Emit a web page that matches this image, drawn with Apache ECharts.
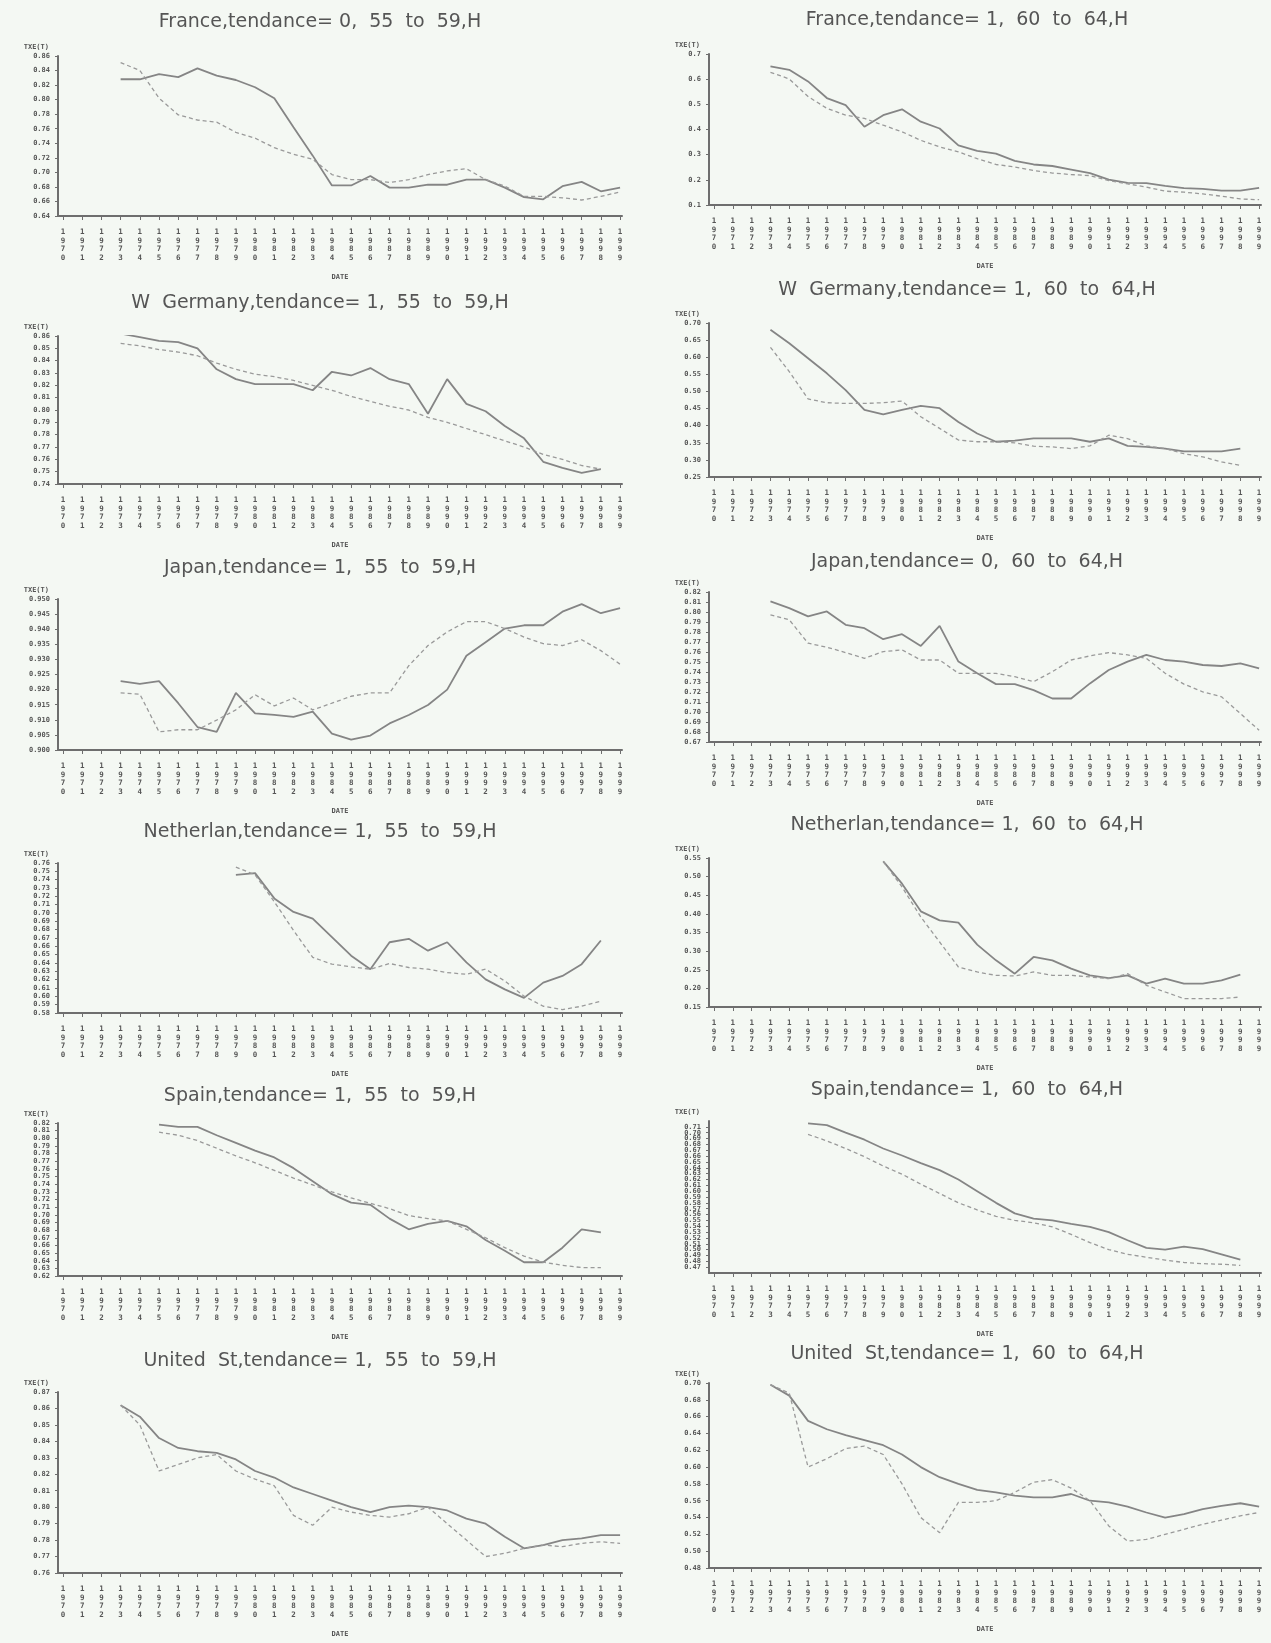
<!DOCTYPE html>
<html>
<head>
<meta charset="utf-8">
<script src="https://cdn.jsdelivr.net/npm/echarts@6/dist/echarts.min.js"></script>
<style>
html, body { margin: 0; padding: 0; background: #f4f8f3; }
#main { width: 1271px; height: 1643px; }
</style>
</head>
<body>
<div id="main"></div>
<script>
var years = [1970, 1971, 1972, 1973, 1974, 1975, 1976, 1977, 1978, 1979,
             1980, 1981, 1982, 1983, 1984, 1985, 1986, 1987, 1988, 1989,
             1990, 1991, 1992, 1993, 1994, 1995, 1996, 1997, 1998, 1999];

// France 55-59
var fr5559Obs = [null, null, null, 0.828, 0.828, 0.835, 0.831, 0.843, 0.833, 0.827,
                 0.817, 0.802, 0.762, 0.723, 0.682, 0.682, 0.695, 0.679, 0.679, 0.683,
                 0.683, 0.690, 0.690, 0.679, 0.666, 0.663, 0.681, 0.687, 0.674, 0.679];
var fr5559Trend = [null, null, null, 0.851, 0.840, 0.802, 0.779, 0.772, 0.769, 0.755,
                   0.747, 0.734, 0.725, 0.718, 0.697, 0.690, 0.690, 0.686, 0.690, 0.697,
                   0.702, 0.705, 0.690, 0.681, 0.667, 0.667, 0.665, 0.662, 0.667, 0.673];
var fr5559Ticks = [0.64, 0.66, 0.68, 0.70, 0.72, 0.74, 0.76, 0.78, 0.80, 0.82, 0.84, 0.86];

// France 60-64
var fr6064Obs = [null, null, null, 0.651, 0.637, 0.591, 0.525, 0.497, 0.411, 0.457,
                 0.480, 0.431, 0.404, 0.337, 0.315, 0.304, 0.275, 0.261, 0.255, 0.241,
                 0.227, 0.201, 0.188, 0.187, 0.176, 0.167, 0.164, 0.157, 0.157, 0.168];
var fr6064Trend = [null, null, null, 0.627, 0.601, 0.531, 0.484, 0.457, 0.444, 0.417,
                   0.391, 0.357, 0.331, 0.311, 0.284, 0.261, 0.251, 0.237, 0.227, 0.221,
                   0.217, 0.197, 0.184, 0.171, 0.155, 0.151, 0.144, 0.135, 0.124, 0.121];
var fr6064Ticks = [0.1, 0.2, 0.3, 0.4, 0.5, 0.6, 0.7];

// W Germany 55-59
var de5559Obs = [null, null, null, 0.862, 0.859, 0.856, 0.855, 0.850, 0.833, 0.825,
                 0.821, 0.821, 0.821, 0.816, 0.831, 0.828, 0.834, 0.825, 0.821, 0.797,
                 0.825, 0.805, 0.799, 0.787, 0.777, 0.758, 0.753, 0.749, 0.752, null];
var de5559Trend = [null, null, null, 0.854, 0.852, 0.849, 0.847, 0.844, 0.838, 0.833,
                   0.829, 0.827, 0.824, 0.820, 0.816, 0.811, 0.807, 0.803, 0.800, 0.794,
                   0.790, 0.785, 0.780, 0.775, 0.770, 0.764, 0.760, 0.755, 0.752, null];
var de5559Ticks = [0.74, 0.75, 0.76, 0.77, 0.78, 0.79, 0.80, 0.81, 0.82, 0.83, 0.84, 0.85, 0.86];

// W Germany 60-64
var de6064Obs = [null, null, null, 0.680, 0.641, 0.597, 0.553, 0.504, 0.446, 0.433,
                 0.446, 0.458, 0.451, 0.411, 0.377, 0.353, 0.356, 0.363, 0.363, 0.363,
                 0.353, 0.363, 0.341, 0.338, 0.333, 0.325, 0.325, 0.325, 0.333, null];
var de6064Trend = [null, null, null, 0.629, 0.558, 0.478, 0.467, 0.465, 0.465, 0.467,
                   0.472, 0.426, 0.392, 0.358, 0.353, 0.353, 0.350, 0.340, 0.338, 0.333,
                   0.341, 0.372, 0.362, 0.341, 0.333, 0.318, 0.309, 0.294, 0.284, null];
var de6064Ticks = [0.25, 0.30, 0.35, 0.40, 0.45, 0.50, 0.55, 0.60, 0.65, 0.70];

// Japan 55-59
var jp5559Obs = [null, null, null, 0.9228, 0.9219, 0.9228, 0.9155, 0.9076, 0.9060, 0.9189,
                 0.9121, 0.9116, 0.9110, 0.9127, 0.9054, 0.9034, 0.9048, 0.9088, 0.9116, 0.9149,
                 0.9200, 0.9312, 0.9357, 0.9402, 0.9413, 0.9413, 0.9458, 0.9483, 0.9453, 0.9470];
var jp5559Trend = [null, null, null, 0.9189, 0.9185, 0.9060, 0.9067, 0.9067, 0.9099, 0.9133,
                   0.9183, 0.9146, 0.9172, 0.9133, 0.9155, 0.9178, 0.9189, 0.9189, 0.9279, 0.9346,
                   0.9391, 0.9425, 0.9425, 0.9402, 0.9374, 0.9352, 0.9346, 0.9365, 0.9329, 0.9284];
var jp5559Ticks = [0.900, 0.905, 0.910, 0.915, 0.920, 0.925, 0.930, 0.935, 0.940, 0.945, 0.950];

// Japan 60-64
var jp6064Obs = [null, null, null, 0.8106, 0.8039, 0.7956, 0.8006, 0.7872, 0.7838, 0.7728,
                 0.7778, 0.7661, 0.7862, 0.7504, 0.7387, 0.7279, 0.7279, 0.7219, 0.7135, 0.7135,
                 0.7286, 0.7420, 0.7504, 0.7571, 0.7520, 0.7504, 0.7470, 0.7460, 0.7487, 0.7437];
var jp6064Trend = [null, null, null, 0.7972, 0.7922, 0.7688, 0.7648, 0.7594, 0.7537, 0.7604,
                   0.7621, 0.7520, 0.7520, 0.7387, 0.7387, 0.7387, 0.7353, 0.7303, 0.7403, 0.7520,
                   0.7561, 0.7594, 0.7571, 0.7537, 0.7387, 0.7279, 0.7202, 0.7152, 0.6985, 0.6817];
var jp6064Ticks = [0.67, 0.68, 0.69, 0.70, 0.71, 0.72, 0.73, 0.74, 0.75, 0.76, 0.77, 0.78, 0.79, 0.80, 0.81, 0.82];

// Netherlands 55-59
var nl5559Obs = [null, null, null, null, null, null, null, null, null, 0.7458,
                 0.7479, 0.7175, 0.7013, 0.6933, 0.6710, 0.6488, 0.6326, 0.6649, 0.6690, 0.6548,
                 0.6649, 0.6407, 0.6204, 0.6083, 0.5982, 0.6164, 0.6245, 0.6386, 0.6670, null];
var nl5559Trend = [null, null, null, null, null, null, null, null, null, 0.7551,
                   0.7458, 0.7135, 0.6791, 0.6467, 0.6386, 0.6354, 0.6326, 0.6394, 0.6346, 0.6326,
                   0.6285, 0.6265, 0.6326, 0.6184, 0.6002, 0.5881, 0.5840, 0.5881, 0.5941, null];
var nl5559Ticks = [0.58, 0.59, 0.60, 0.61, 0.62, 0.63, 0.64, 0.65, 0.66, 0.67,
                   0.68, 0.69, 0.70, 0.71, 0.72, 0.73, 0.74, 0.75, 0.76];

// Netherlands 60-64
var nl6064Obs = [null, null, null, null, null, null, null, null, null, 0.5411,
                 0.4811, 0.4068, 0.3827, 0.3764, 0.3174, 0.2753, 0.2395, 0.2843, 0.2753, 0.2529,
                 0.2350, 0.2278, 0.2350, 0.2127, 0.2261, 0.2127, 0.2127, 0.2216, 0.2368, null];
var nl6064Trend = [null, null, null, null, null, null, null, null, null, 0.5411,
                   0.4722, 0.3916, 0.3245, 0.2574, 0.2440, 0.2350, 0.2332, 0.2440, 0.2350, 0.2350,
                   0.2306, 0.2261, 0.2395, 0.2082, 0.1903, 0.1725, 0.1725, 0.1725, 0.1769, null];
var nl6064Ticks = [0.15, 0.20, 0.25, 0.30, 0.35, 0.40, 0.45, 0.50, 0.55];

// Spain 55-59
var es5559Obs = [null, null, null, null, null, 0.818, 0.815, 0.815, 0.804, 0.794,
                 0.784, 0.775, 0.761, 0.744, 0.727, 0.716, 0.713, 0.695, 0.681, 0.688,
                 0.692, 0.685, 0.667, 0.653, 0.638, 0.638, 0.657, 0.681, 0.677, null];
var es5559Trend = [null, null, null, null, null, 0.808, 0.804, 0.797, 0.787, 0.777,
                   0.768, 0.758, 0.748, 0.739, 0.730, 0.722, 0.715, 0.708, 0.699, 0.695,
                   0.692, 0.681, 0.670, 0.657, 0.646, 0.638, 0.634, 0.631, 0.631, null];
var es5559Ticks = [0.62, 0.63, 0.64, 0.65, 0.66, 0.67, 0.68, 0.69, 0.70, 0.71, 0.72,
                   0.73, 0.74, 0.75, 0.76, 0.77, 0.78, 0.79, 0.80, 0.81, 0.82];

// Spain 60-64
var es6064Obs = [null, null, null, null, null, 0.716, 0.713, 0.700, 0.688, 0.673,
                 0.661, 0.648, 0.636, 0.620, 0.600, 0.580, 0.562, 0.553, 0.550, 0.544,
                 0.539, 0.530, 0.516, 0.503, 0.500, 0.505, 0.501, 0.492, 0.483, null];
var es6064Trend = [null, null, null, null, null, 0.697, 0.686, 0.673, 0.659, 0.643,
                   0.629, 0.612, 0.596, 0.580, 0.568, 0.557, 0.550, 0.546, 0.539, 0.526,
                   0.512, 0.500, 0.492, 0.487, 0.482, 0.478, 0.476, 0.475, 0.473, null];
var es6064Ticks = [0.46, 0.47, 0.48, 0.49, 0.50, 0.51, 0.52, 0.53, 0.54, 0.55, 0.56, 0.57, 0.58, 0.59,
                   0.60, 0.61, 0.62, 0.63, 0.64, 0.65, 0.66, 0.67, 0.68, 0.69, 0.70, 0.71, 0.72];

// United States 55-59
var us5559Obs = [null, null, null, 0.862, 0.855, 0.842, 0.836, 0.834, 0.833, 0.829,
                 0.822, 0.818, 0.812, 0.808, 0.804, 0.800, 0.797, 0.800, 0.801, 0.800,
                 0.798, 0.793, 0.790, 0.782, 0.775, 0.777, 0.780, 0.781, 0.783, 0.783];
var us5559Trend = [null, null, null, 0.862, 0.850, 0.822, 0.826, 0.830, 0.832, 0.822,
                   0.817, 0.813, 0.795, 0.789, 0.800, 0.797, 0.795, 0.794, 0.796, 0.800,
                   0.790, 0.780, 0.770, 0.772, 0.775, 0.777, 0.776, 0.778, 0.779, 0.778];
var us5559Ticks = [0.76, 0.77, 0.78, 0.79, 0.80, 0.81, 0.82, 0.83, 0.84, 0.85, 0.86, 0.87];

// United States 60-64
var us6064Obs = [null, null, null, 0.698, 0.685, 0.655, 0.645, 0.638, 0.632, 0.626,
                 0.615, 0.600, 0.588, 0.580, 0.573, 0.570, 0.566, 0.564, 0.564, 0.568,
                 0.560, 0.558, 0.553, 0.546, 0.540, 0.544, 0.550, 0.554, 0.557, 0.553];
var us6064Trend = [null, null, null, 0.698, 0.688, 0.600, 0.610, 0.622, 0.625, 0.615,
                   0.580, 0.540, 0.522, 0.558, 0.558, 0.560, 0.570, 0.582, 0.585, 0.575,
                   0.560, 0.530, 0.512, 0.514, 0.520, 0.526, 0.532, 0.537, 0.542, 0.546];
var us6064Ticks = [0.48, 0.50, 0.52, 0.54, 0.56, 0.58, 0.60, 0.62, 0.64, 0.66, 0.68, 0.70];

var panels = [
    { title: 'France,tendance= 0,  55  to  59,H', obs: fr5559Obs, trend: fr5559Trend, ticks: fr5559Ticks, dec: 2 },
    { title: 'France,tendance= 1,  60  to  64,H', obs: fr6064Obs, trend: fr6064Trend, ticks: fr6064Ticks, dec: 1 },
    { title: 'W  Germany,tendance= 1,  55  to  59,H', obs: de5559Obs, trend: de5559Trend, ticks: de5559Ticks, dec: 2 },
    { title: 'W  Germany,tendance= 1,  60  to  64,H', obs: de6064Obs, trend: de6064Trend, ticks: de6064Ticks, dec: 2 },
    { title: 'Japan,tendance= 1,  55  to  59,H', obs: jp5559Obs, trend: jp5559Trend, ticks: jp5559Ticks, dec: 3 },
    { title: 'Japan,tendance= 0,  60  to  64,H', obs: jp6064Obs, trend: jp6064Trend, ticks: jp6064Ticks, dec: 2 },
    { title: 'Netherlan,tendance= 1,  55  to  59,H', obs: nl5559Obs, trend: nl5559Trend, ticks: nl5559Ticks, dec: 2 },
    { title: 'Netherlan,tendance= 1,  60  to  64,H', obs: nl6064Obs, trend: nl6064Trend, ticks: nl6064Ticks, dec: 2 },
    { title: 'Spain,tendance= 1,  55  to  59,H', obs: es5559Obs, trend: es5559Trend, ticks: es5559Ticks, dec: 2 },
    { title: 'Spain,tendance= 1,  60  to  64,H', obs: es6064Obs, trend: es6064Trend, ticks: es6064Ticks, dec: 2 },
    { title: 'United  St,tendance= 1,  55  to  59,H', obs: us5559Obs, trend: us5559Trend, ticks: us5559Ticks, dec: 2 },
    { title: 'United  St,tendance= 1,  60  to  64,H', obs: us6064Obs, trend: us6064Trend, ticks: us6064Ticks, dec: 2 }
];

// [title y, plot top, plot bottom] in px, same order as panels
var rows = [
    [24, 56, 216], [22, 54, 205],
    [305, 336, 484], [292, 323, 477],
    [570, 599, 750], [564, 592, 742],
    [834, 863, 1013], [827, 858, 1007],
    [1098, 1123, 1276], [1092, 1121, 1273],
    [1363, 1392, 1573], [1356, 1383, 1568]
];
// left column / right column: axis x, width, title centre, xmin
var cols = [
    { left: 58, width: 564, tx: 320, xmin: 1969.74 },
    { left: 709, width: 552, tx: 967, xmin: 1969.73 }
];

var lineCol = '#858585';
var dashCol = '#9a9a9a';
var axisCol = '#6e6e6e';
var labelCol = '#555';

var option = {
    backgroundColor: '#f4f8f3',
    animation: false,
    title: [],
    grid: [],
    xAxis: [],
    yAxis: [],
    series: []
};

function pairs(vals) {
    var out = [];
    for (var k = 0; k < years.length; k++) {
        if (vals[k] != null) out.push([years[k], vals[k]]);
    }
    return out;
}

panels.forEach(function(p, i) {
    var c = cols[i % 2];
    var r = rows[i];
    option.title.push({
        text: p.title,
        left: c.tx,
        top: r[0] - 11,
        textAlign: 'center',
        padding: 0,
        textStyle: { fontFamily: 'DejaVu Sans', fontSize: 19, fontWeight: 'normal', color: '#555' }
    });
    option.grid.push({ left: c.left, width: c.width, top: r[1], height: r[2] - r[1] });
    option.xAxis.push({
        type: 'value',
        gridIndex: i,
        min: c.xmin,
        max: 1999.1,
        name: 'DATE',
        nameLocation: 'middle',
        nameGap: 58,
        nameTextStyle: { fontFamily: 'DejaVu Sans Mono', fontSize: 7, fontWeight: 'bold', color: labelCol },
        axisLine: { show: true, lineStyle: { color: axisCol, width: 2 } },
        axisTick: { show: true, length: 4, customValues: years, lineStyle: { color: axisCol } },
        axisLabel: {
            customValues: years,
            margin: 12,
            fontFamily: 'DejaVu Sans Mono',
            fontSize: 7.5,
            fontWeight: 'bold',
            lineHeight: 8.5,
            color: labelCol,
            formatter: function(v) { return String(v).split('').join('\n'); }
        },
        splitLine: { show: false }
    });
    option.yAxis.push({
        type: 'value',
        gridIndex: i,
        min: p.ticks[0],
        max: p.ticks[p.ticks.length - 1],
        name: 'TXE(T)',
        nameLocation: 'end',
        nameGap: 5,
        nameTextStyle: { fontFamily: 'DejaVu Sans Mono', fontSize: 7, fontWeight: 'bold', color: labelCol,
                         align: 'right', padding: [0, 9, 0, 0] },
        axisLine: { show: true, lineStyle: { color: axisCol, width: 2 } },
        axisTick: { show: true, length: 3, customValues: p.ticks, lineStyle: { color: axisCol } },
        axisLabel: {
            customValues: p.ticks,
            margin: 8,
            fontFamily: 'DejaVu Sans Mono',
            fontSize: 7,
            fontWeight: 'bold',
            color: labelCol,
            formatter: function(v) { return v.toFixed(p.dec); }
        },
        splitLine: { show: false }
    });
    option.series.push({
        type: 'line',
        xAxisIndex: i,
        yAxisIndex: i,
        data: pairs(p.obs),
        symbol: 'none',
        lineStyle: { color: lineCol, width: 1.8 }
    });
    option.series.push({
        type: 'line',
        xAxisIndex: i,
        yAxisIndex: i,
        data: pairs(p.trend),
        symbol: 'none',
        lineStyle: { color: dashCol, width: 1.3, type: [4, 3] }
    });
});

var chart = echarts.init(document.getElementById('main'));
chart.setOption(option);
</script>
</body>
</html>
